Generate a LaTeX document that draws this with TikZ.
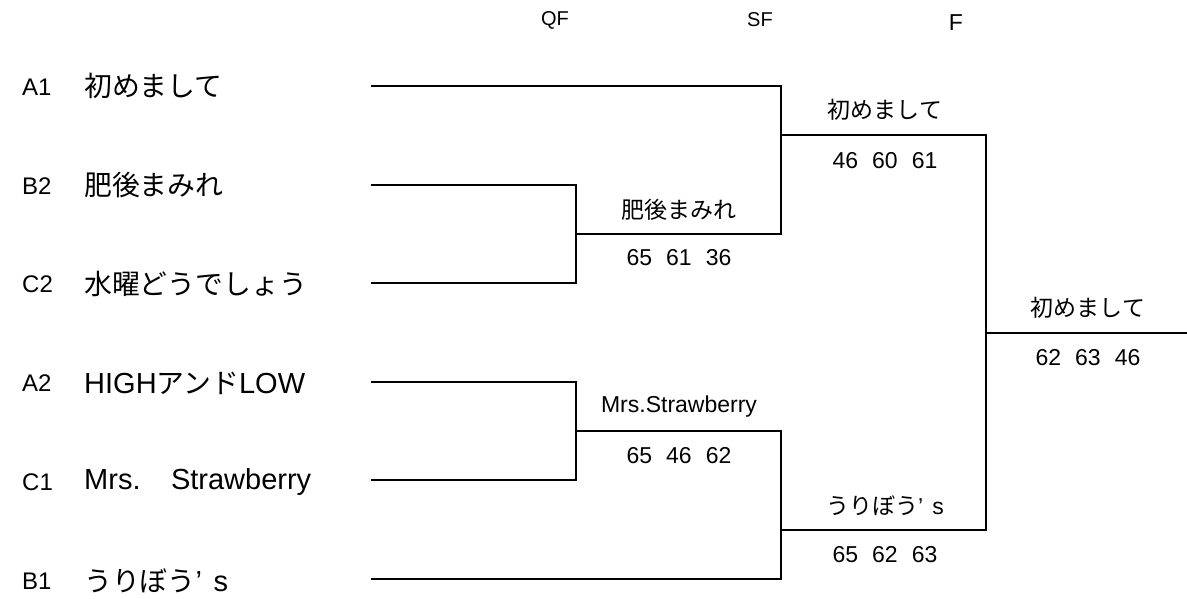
\documentclass[tikz,border=0pt]{standalone}
\usepackage{fontspec}
\setmainfont{Liberation Sans}
\newfontfamily\jp{Noto Sans CJK JP}
\newfontfamily\jpt[Scale=0.96]{Noto Sans CJK JP}
\newcommand\scoreline[3]{#1\hspace{14pt}#2\hspace{14pt}#3}
\begin{document}
\begin{tikzpicture}[x=1pt,y=-1pt,
  seedlbl/.style={anchor=west,inner sep=0pt,font=\fontsize{24}{28}\selectfont},
  teamlbl/.style={anchor=west,inner sep=0pt,font=\fontsize{29}{34}\selectfont},
  winlbl/.style={inner sep=0pt,font=\fontsize{23}{27}\selectfont},
  rndlbl/.style={inner sep=0pt,font=\fontsize{20}{24}\selectfont},
  bracketline/.style={line width=2.9pt,line join=miter}]
\useasboundingbox (0,0) rectangle (1187,598);

% round headers
\node[rndlbl] (hqf) at (555,20) {QF};
\node[rndlbl] (hsf) at (760,20) {SF};
\node[rndlbl,font=\fontsize{23}{27}\selectfont] (hf) at (956,23) {F};

% seeds and team names
\node[seedlbl] (sa1) at (22,87) {A1};
\node[seedlbl] (sb2) at (22,186) {B2};
\node[seedlbl] (sc2) at (22,284) {C2};
\node[seedlbl] (sa2) at (22,383) {A2};
\node[seedlbl] (sc1) at (22,482) {C1};
\node[seedlbl] (sb1) at (22,581) {B1};

\node[teamlbl] (ta1) at (84,86) {\jpt 初めまして};
\node[teamlbl] (tb2) at (84,185) {\jpt 肥後まみれ};
\node[teamlbl] (tc2) at (84,284) {\jpt 水曜どうでしょう};
\node[teamlbl] (ta2) at (84,383) {HIGH{\jpt アンド}LOW};
\node[teamlbl] (tc1) at (84,482) {Mrs.\hspace{1.05em}Strawberry};
\node[teamlbl] (tb1) at (84,581) {{\jpt うりぼう}’\hspace{0.4em}s};

% line end coordinates
\coordinate (a1) at (371,86);
\coordinate (b2) at (371,185);
\coordinate (c2) at (371,283);
\coordinate (a2) at (371,382);
\coordinate (c1) at (371,480);
\coordinate (b1) at (371,579);
\coordinate (q1) at (576,234);
\coordinate (q2) at (576,431);
\coordinate (s1) at (781,135);
\coordinate (s2) at (781,530);
\coordinate (f) at (986,333);
\coordinate (fend) at (1187,333);

% bracket lines
\draw[bracketline] (b2) -| (q1) |- (c2);
\draw[bracketline] (a2) -| (q2) |- (c1);
\draw[bracketline] (a1) -| (s1) |- (q1);
\draw[bracketline] (q2) -| (s2) |- (b1);
\draw[bracketline] (s1) -| (f) |- (s2);
\draw[bracketline] (f) -- (fend);

% winners and scores
\node[winlbl] (wq1) at (679,210) {\jp 肥後まみれ};
\node[winlbl] (rq1) at (679,258) {\scoreline{65}{61}{36}};
\node[winlbl] (wq2) at (679,407) {Mrs.Strawberry};
\node[winlbl] (rq2) at (679,456) {\scoreline{65}{46}{62}};
\node[winlbl] (ws1) at (885,110) {\jp 初めまして};
\node[winlbl] (rs1) at (885,161) {\scoreline{46}{60}{61}};
\node[winlbl] (ws2) at (885,506) {{\jp うりぼう}’\hspace{0.4em}s};
\node[winlbl] (rs2) at (885,555) {\scoreline{65}{62}{63}};
\node[winlbl] (wf) at (1088,308) {\jp 初めまして};
\node[winlbl] (rf) at (1088,358) {\scoreline{62}{63}{46}};
\end{tikzpicture}
\end{document}
